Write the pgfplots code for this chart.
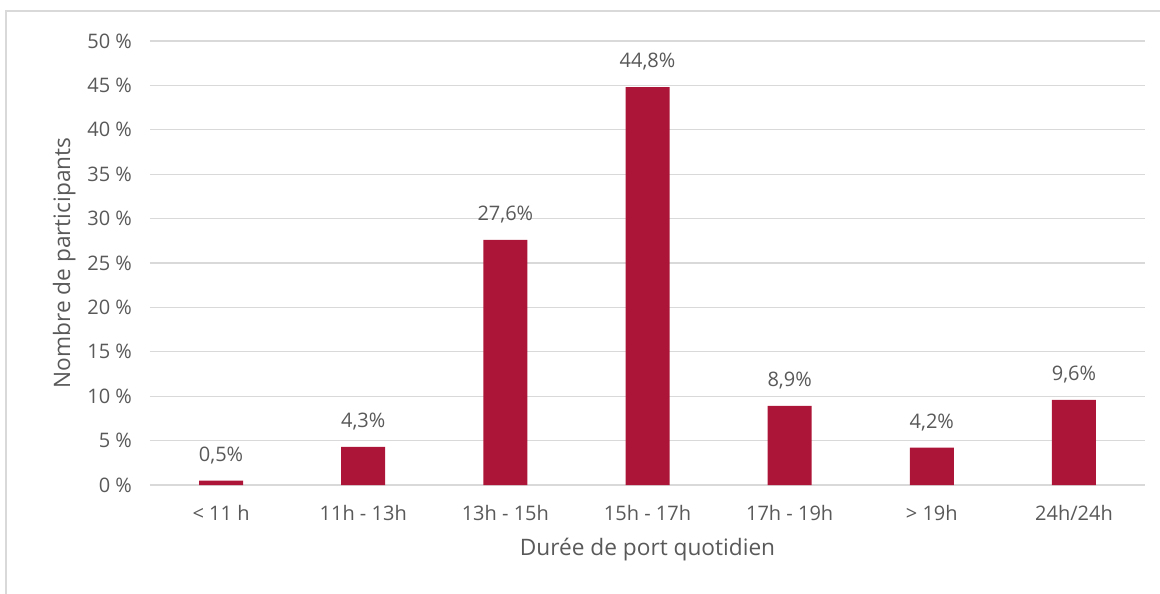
\documentclass[border=0pt]{standalone}
\usepackage{pgfplots}
\pgfplotsset{compat=1.18}
\usepackage{fontspec}
\setmainfont{Open Sans}
\definecolor{barred}{HTML}{AD1538}
\definecolor{txt}{HTML}{595959}
\definecolor{gridc}{HTML}{D9D9D9}
\begin{document}
\begin{tikzpicture}[x=0.75pt,y=0.75pt]
\begin{axis}[
  at={(0,0)}, anchor=south west,
  scale only axis,
  width=746.25pt, height=333pt,
  xmin=-0.5, xmax=6.5, ymin=0, ymax=50,
  xtick=data,
  xticklabels={< 11 h, 11h - 13h, 13h - 15h, 15h - 17h, 17h - 19h, > 19h, 24h/24h},
  ytick={0,5,...,50},
  yticklabel={\pgfmathprintnumber{\tick}~\%},
  /pgf/number format/assume math mode=true,
  ymajorgrids,
  grid style={gridc, line width=0.9pt},
  axis x line*=bottom,
  axis y line*=left,
  y axis line style={draw=none},
  x axis line style={gridc, line width=0.9pt, -},
  major tick length=0pt,
  tick label style={font=\fontsize{15}{17}\selectfont, text=txt},
  xticklabel style={yshift=-12pt},
  yticklabel style={xshift=-10pt},
  xlabel={Durée de port quotidien},
  ylabel={Nombre de participants},
  label style={font=\fontsize{17}{20}\selectfont, text=txt},
  xlabel style={yshift=-6pt},
  ylabel style={yshift=2pt},
  ybar, bar width=33pt,
  nodes near coords={\pgfmathprintnumber[use comma, fixed, fixed zerofill, precision=1]{\pgfplotspointmeta}\%},
  nodes near coords style={font=\fontsize{15}{17}\selectfont, text=txt, yshift=9pt},
]
\addplot[fill=barred, draw=none] coordinates {
  (0,0.5) (1,4.3) (2,27.6) (3,44.8) (4,8.9) (5,4.2) (6,9.6)
};
\end{axis}
% page frame
\path[use as bounding box] (-150,-108) rectangle (1010,485);
\draw[gridc, line width=1pt] (-144,-130) rectangle (1030,474);
\end{tikzpicture}
\end{document}
